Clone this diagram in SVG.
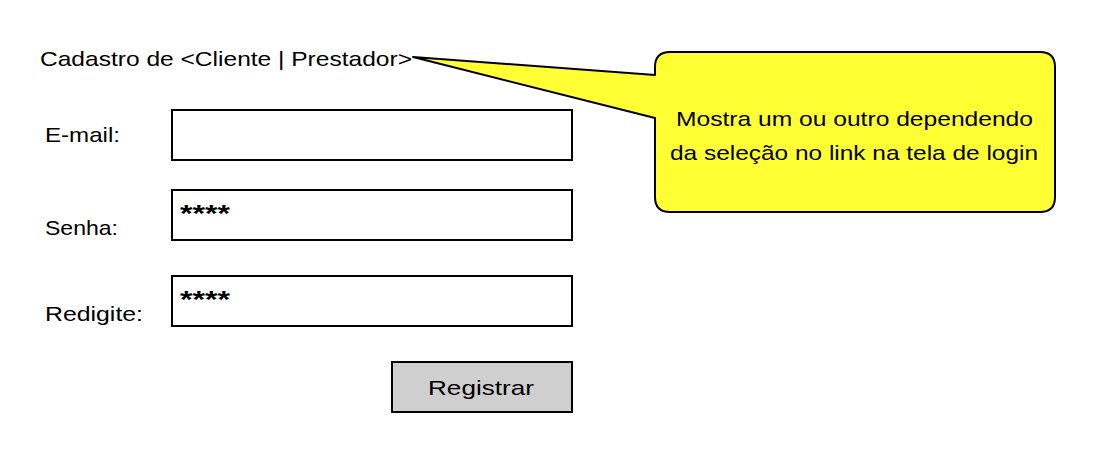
<svg xmlns="http://www.w3.org/2000/svg" width="1094" height="454" viewBox="0 0 1094 454">
<style>
text{font-family:"Comic Sans MS","Liberation Sans","DejaVu Sans",sans-serif;font-size:21px;fill:#000}
.box{fill:#fff;stroke:#000;stroke-width:2}
.btn{fill:#cfcfcf;stroke:#000;stroke-width:2}
.call{fill:#ffff33;stroke:#000;stroke-width:2;stroke-linejoin:round}
.stars{font-weight:bold;font-size:24px}
</style>
<rect width="1094" height="454" fill="#fff"/>
<g id="title"><text x="40" y="66" textLength="372" lengthAdjust="spacingAndGlyphs">Cadastro de &lt;Cliente | Prestador&gt;</text></g>
<g id="callout">
<path class="call" d="M670,52 H1040 Q1055,52 1055,67 V197 Q1055,212 1040,212 H670 Q655,212 655,197 V118 L413,57 L655,75 V67 Q655,52 670,52 Z"/>
<text x="676" y="126" textLength="357" lengthAdjust="spacingAndGlyphs">Mostra um ou outro dependendo</text>
<text x="670" y="160" textLength="368" lengthAdjust="spacingAndGlyphs">da seleção no link na tela de login</text>
</g>
<g id="email">
<text x="45" y="142" textLength="75" lengthAdjust="spacingAndGlyphs">E-mail:</text>
<rect class="box" x="172" y="110" width="400" height="50"/>
</g>
<g id="senha">
<text x="45" y="235" textLength="73" lengthAdjust="spacingAndGlyphs">Senha:</text>
<rect class="box" x="172" y="190" width="400" height="50"/>
<text class="stars" x="180" y="222" textLength="50" lengthAdjust="spacingAndGlyphs">****</text>
</g>
<g id="redigite">
<text x="45" y="321" textLength="98" lengthAdjust="spacingAndGlyphs">Redigite:</text>
<rect class="box" x="172" y="276" width="400" height="50"/>
<text class="stars" x="180" y="308" textLength="50" lengthAdjust="spacingAndGlyphs">****</text>
</g>
<g id="registrar">
<rect class="btn" x="392" y="362" width="180" height="50"/>
<text x="428" y="395" textLength="106" lengthAdjust="spacingAndGlyphs">Registrar</text>
</g>
<g id="connectors"></g>
</svg>
